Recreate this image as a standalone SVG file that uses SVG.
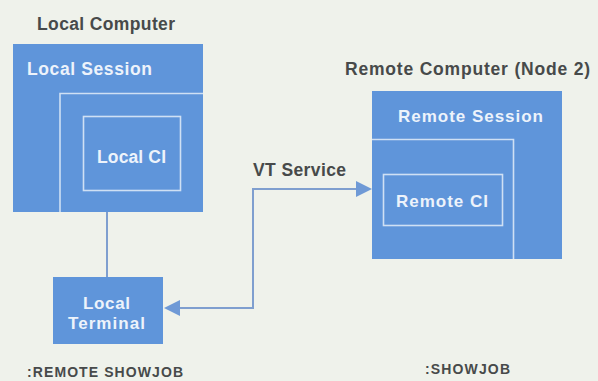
<svg xmlns="http://www.w3.org/2000/svg" width="598" height="381" viewBox="0 0 598 381">
<defs>
<style>
.box{fill:#5f95da}
.frame{fill:none;stroke:#cfe0f4;stroke-width:1.6}
.lbl{font-family:"Liberation Sans",Arial,sans-serif;font-weight:bold;fill:#474a4a}
.wl{font-family:"Liberation Sans",Arial,sans-serif;font-weight:bold;fill:#edf3fb}
.conn{fill:none;stroke:#7f9fcf;stroke-width:2}
.ah{fill:#6f9ad6}
</style>
</defs>
<rect width="598" height="381" fill="#eff2eb"/>
<text class="lbl" x="37" y="29.5" font-size="17.5" textLength="138" lengthAdjust="spacing">Local Computer</text>
<text class="lbl" x="345" y="75" font-size="17.5" textLength="245" lengthAdjust="spacing">Remote Computer (Node 2)</text>
<g id="local-session">
<rect class="box" x="13" y="44" width="190" height="168"/>
<polyline class="frame" points="60,212 60,93.5 203,93.5"/>
<text class="wl" x="27" y="75" font-size="17.5" textLength="125" lengthAdjust="spacing">Local Session</text>
</g>
<g id="local-ci">
<rect class="frame" x="83.5" y="116.5" width="97" height="74"/>
<text class="wl" x="97" y="163" font-size="17.5" textLength="69" lengthAdjust="spacing">Local CI</text>
</g>
<g id="local-terminal">
<rect class="box" x="53" y="277" width="110" height="67"/>
<text class="wl" x="83" y="309" font-size="17" textLength="47" lengthAdjust="spacing">Local</text>
<text class="wl" x="68" y="329" font-size="17" textLength="77" lengthAdjust="spacing">Terminal</text>
</g>
<g id="remote-session">
<rect class="box" x="372" y="91" width="190" height="168"/>
<polyline class="frame" points="372,139.5 513.5,139.5 513.5,259"/>
<text class="wl" x="398" y="122" font-size="17" textLength="145" lengthAdjust="spacing">Remote Session</text>
</g>
<g id="remote-ci">
<rect class="frame" x="383.5" y="174.5" width="119" height="51"/>
<text class="wl" x="396" y="207" font-size="17" textLength="92" lengthAdjust="spacing">Remote CI</text>
</g>
<g id="connectors">
<line class="conn" x1="107" y1="212" x2="107" y2="277"/>
<polyline class="conn" points="178,308 253,308 253,189 359,189"/>
<polygon class="ah" points="164,308 180,300 180,316"/>
<polygon class="ah" points="372,189 356,181 356,197"/>
</g>
<text class="lbl" x="253" y="176" font-size="17.5" textLength="93" lengthAdjust="spacing">VT Service</text>
<text class="lbl" x="27" y="377" font-size="14" textLength="156" lengthAdjust="spacing">:REMOTE SHOWJOB</text>
<text class="lbl" x="425" y="374" font-size="14" textLength="85" lengthAdjust="spacing">:SHOWJOB</text>
</svg>
